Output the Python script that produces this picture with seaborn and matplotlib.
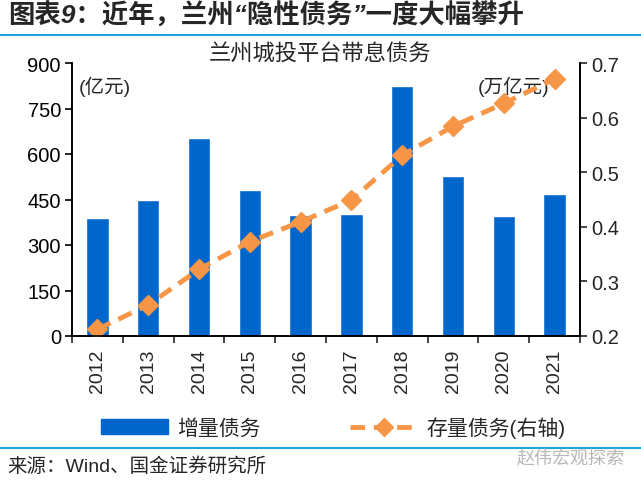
import numpy as np
import pandas as pd
import matplotlib
matplotlib.use("Agg")
import matplotlib.pyplot as plt
import seaborn as sns
from matplotlib.lines import Line2D
from matplotlib.patches import Patch

# data
years = ["2012", "2013", "2014", "2015", "2016", "2017", "2018", "2019", "2020", "2021"]
increment = [390, 450, 652, 480, 398, 403, 823, 529, 395, 467]      # 亿元
stock = [0.212, 0.257, 0.322, 0.373, 0.409, 0.449, 0.531, 0.584, 0.626, 0.671]  # 万亿元

bar_color = "#0066CC"
line_color = "#F79646"
dash = (0, (3, 1.8))

sns.set_theme(style="white")
plt.rcParams["font.family"] = ["Liberation Sans", "Noto Sans CJK SC"]
plt.rcParams["axes.unicode_minus"] = False

df = pd.DataFrame({"year": years, "inc": increment, "stock": stock})

fig = plt.figure(figsize=(6.41, 4.81), dpi=100)
ax = fig.add_axes([72 / 641, 1 - 337 / 481, (580 - 72) / 641, (337 - 64) / 481])

sns.barplot(data=df, x="year", y="inc", color=bar_color, width=0.44,
            saturation=1, ax=ax)
ax.set_ylim(0, 900)
ax.set_xlim(-0.5, len(years) - 0.5)
ax.set_yticks(np.arange(0, 901, 150))
ax.set_xlabel("")
ax.set_ylabel("")
ax.tick_params(axis="y", labelsize=14.5, length=5, width=1.2, direction="out",
               left=True, pad=3, colors="black")
ax.tick_params(axis="x", labelsize=14, length=0, rotation=90, pad=9)
# category-boundary ticks on the x axis
ax.set_xticks(np.arange(-0.5, len(years) + 0.5, 1), minor=True)
ax.tick_params(axis="x", which="minor", length=5, width=1.2, bottom=True)

ax2 = ax.twinx()
ax2.plot(np.arange(len(years)), stock, color=line_color, lw=3.5, ls=dash,
         marker="D", ms=10, markeredgecolor=line_color)
ax2.set_ylim(0.2, 0.7)
ax2.set_yticks([0.2, 0.3, 0.4, 0.5, 0.6, 0.7])
ax2.tick_params(axis="y", labelsize=14.5, length=5, width=1.2, direction="out",
                right=True, pad=3)
ax2.grid(False)

for a in (ax, ax2):
    a.spines["top"].set_visible(False)
    for s in ("left", "right", "bottom"):
        a.spines[s].set_color("black")
        a.spines[s].set_linewidth(1.2)

ax.text(0.014, 0.955, "(亿元)", transform=ax.transAxes, fontsize=14, va="top", ha="left")
ax.text(0.94, 0.955, "(万亿元)", transform=ax.transAxes, fontsize=14, va="top", ha="right")
fig.text(0.5, 1 - 54 / 481, "兰州城投平台带息债务", fontsize=16, ha="center", va="center")

# figure title and rules
fig.text(0.012, 1 - 16 / 481, "图表9：近年，兰州“隐性债务”一度大幅攀升", fontsize=19,
         fontweight="bold", style="italic", ha="left", va="center")
fig.add_artist(Line2D([0, 1], [1 - 36 / 481] * 2, color="#1FA3E0", lw=1.5))
fig.add_artist(Line2D([0, 1], [1 - 449 / 481] * 2, color="#1FA3E0", lw=1.5))
fig.text(0.012, 1 - 467 / 481, "来源：Wind、国金证券研究所", fontsize=14, ha="left", va="center")
fig.text(0.975, 1 - 460 / 481, "赵伟宏观探索", fontsize=13, color="#B8B8B8",
         ha="right", va="center")

handles = [Patch(color=bar_color),
           Line2D([0], [0], color=line_color, lw=3.5, ls=dash, marker="D", ms=9)]
fig.legend(handles, ["增量债务", "存量债务(右轴)"], loc="center", ncol=2,
           bbox_to_anchor=(0.52, 1 - 428 / 481), frameon=False, fontsize=15,
           handlelength=3.2, columnspacing=4.3, handletextpad=0.45)

fig.savefig("out.png", dpi=100)
